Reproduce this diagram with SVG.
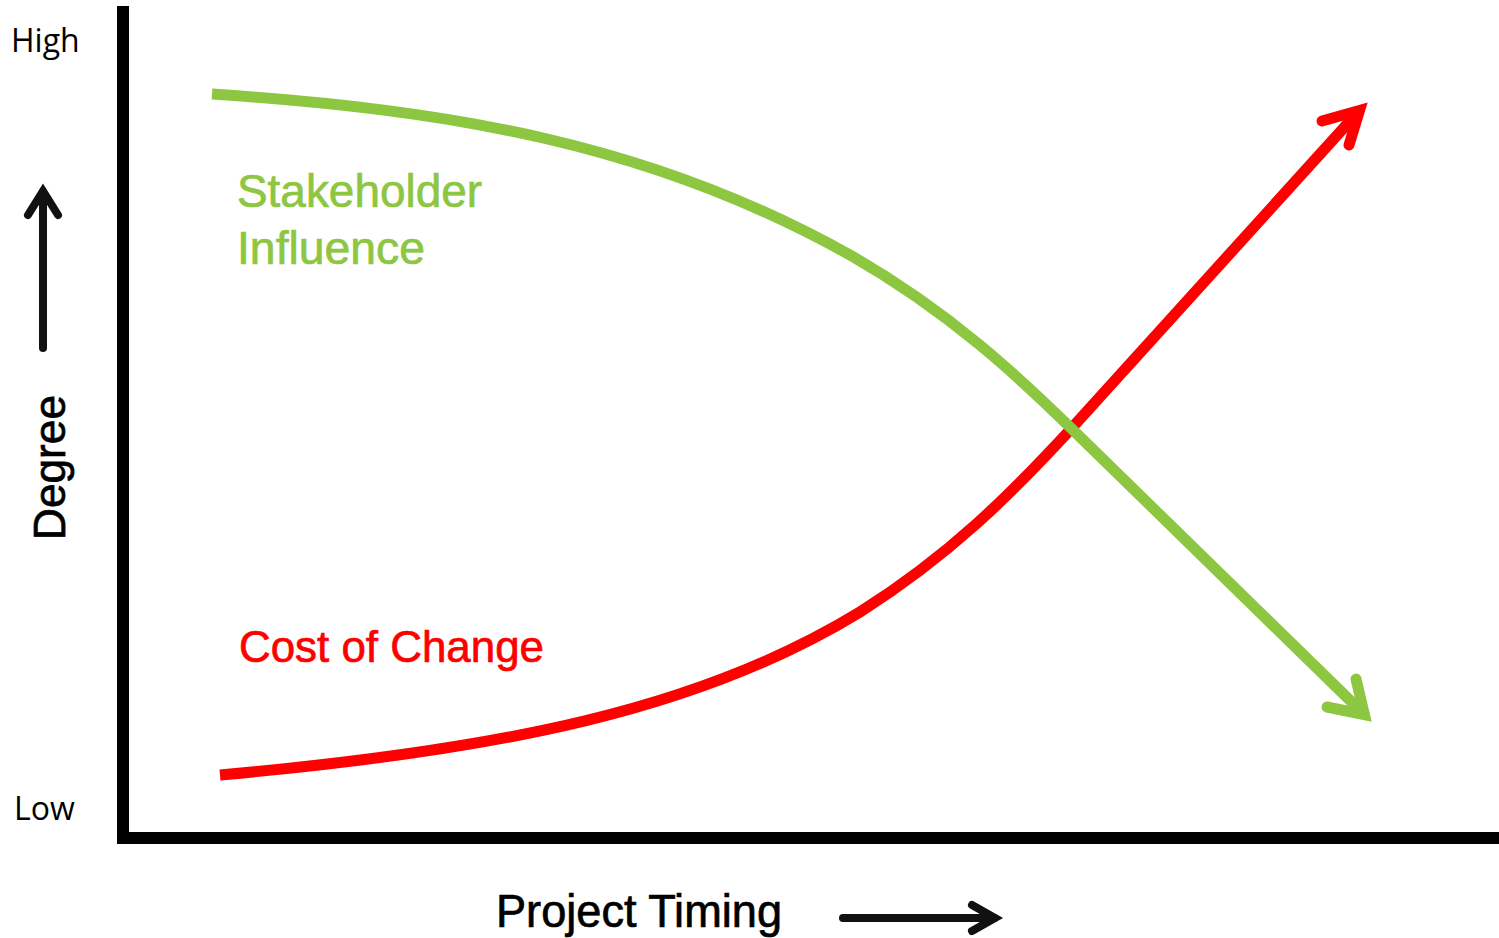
<svg xmlns="http://www.w3.org/2000/svg" width="1499" height="938" viewBox="0 0 1499 938">
<style>
.axis{stroke:#000;stroke-width:12;fill:none}
.curve{fill:none;stroke-width:11;stroke-linecap:butt}
.head{fill:none;stroke-width:11;stroke-linecap:round;stroke-linejoin:miter;stroke-miterlimit:10}
.red{stroke:#FF0000}
.green{stroke:#8DC641}
.ind{fill:none;stroke:#111;stroke-width:8;stroke-linecap:round;stroke-linejoin:miter;stroke-miterlimit:10}
.lbl{font-family:"Liberation Sans",Arial,sans-serif;stroke-width:0.7}
.axl{font-family:"Open Sans","Liberation Sans",sans-serif;font-size:32px;fill:#000}
</style>
<rect width="1499" height="938" fill="#fff"/>
<g id="axes">
<line class="axis" x1="123" y1="6" x2="123" y2="844"/>
<line class="axis" x1="117" y1="838" x2="1499" y2="838"/>
</g>
<g id="connectors">
<g id="cost-curve">
<path class="curve red" d="M220,775 C500,750 700,710 860,612 C950,555 1010,495 1070,430 L1360,110"/>
<polyline class="head red" points="1322,121 1359.5,110.5 1349,145"/>
</g>
<g id="influence-curve">
<path class="curve green" d="M212,94 C450,110 650,143 850,255 C950,312 1020,378 1075,432 L1364,714"/>
<polyline class="head green" points="1327,707 1364.4,714.6 1356,679"/>
</g>
<g id="degree-arrow">
<line class="ind" x1="43" y1="348" x2="43" y2="192" stroke-linecap="butt"/>
<polyline class="ind" points="28,215 43,191 58,215"/>
</g>
<g id="timing-arrow">
<line class="ind" x1="843" y1="918" x2="994" y2="918" stroke-linecap="butt"/>
<polyline class="ind" points="972,905 995,918 972,931"/>
</g>
</g>
<g id="label-high"><text class="axl" x="11" y="52">High</text></g>
<g id="label-low"><text class="axl" x="14" y="820">Low</text></g>
<g id="label-degree"><text class="lbl" transform="translate(65,540) rotate(-90)" font-size="45" textLength="145" lengthAdjust="spacingAndGlyphs" fill="#000" stroke="#000">Degree</text></g>
<g id="label-timing"><text class="lbl" x="496" y="927" font-size="46" textLength="286" lengthAdjust="spacingAndGlyphs" fill="#000" stroke="#000">Project Timing</text></g>
<g id="label-stakeholder">
<text class="lbl" font-size="46" fill="#8DC641" stroke="#8DC641"><tspan x="237" y="207" textLength="245" lengthAdjust="spacingAndGlyphs">Stakeholder</tspan><tspan x="237" y="264" textLength="188" lengthAdjust="spacingAndGlyphs">Influence</tspan></text>
</g>
<g id="label-cost"><text class="lbl" x="239" y="662" font-size="45" textLength="305" lengthAdjust="spacingAndGlyphs" fill="#FF0000" stroke="#FF0000">Cost of Change</text></g>
</svg>
